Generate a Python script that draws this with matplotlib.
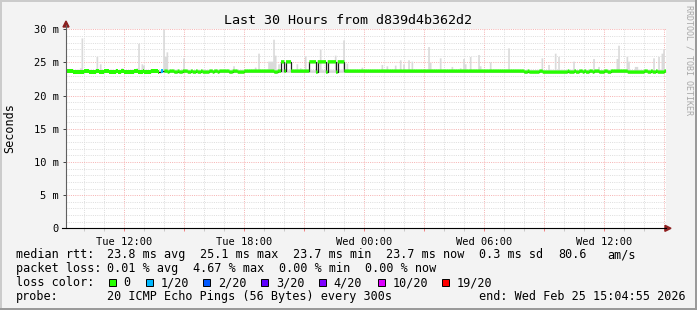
import datetime as dt
import numpy as np
import pandas as pd
import matplotlib
matplotlib.use('Agg')
import matplotlib.pyplot as plt
import matplotlib.dates as mdates
from matplotlib.lines import Line2D
from matplotlib.patches import Polygon, Rectangle
from matplotlib.ticker import MultipleLocator, FuncFormatter

plt.rcParams['font.family'] = 'DejaVu Sans Mono'

# 5 minute samples, 30 hours (values in ms)
n_steps = 360
start = dt.datetime(2026, 2, 24, 9, 4, 55)
end = dt.datetime(2026, 2, 25, 15, 4, 55)

median_base = 23.7
dip_level = 23.55
high_level = 25.1
# (first, last) sample index where the median sits lower / higher
dip_ranges = [(4, 10), (14, 17), (20, 22), (26, 29), (31, 32), (35, 37), (38, 40),
              (43, 45), (47, 50), (55, 56), (61, 61), (65, 66), (68, 69), (73, 74),
              (76, 77), (79, 80), (82, 85), (88, 88), (91, 91), (98, 99), (103, 106),
              (125, 126), (150, 150), (156, 156), (162, 162),
              (275, 276), (278, 280), (281, 283), (286, 289), (290, 292), (293, 295),
              (296, 298), (299, 300), (302, 304), (306, 307), (310, 310), (312, 313),
              (316, 316), (320, 322), (325, 326), (337, 340), (341, 343), (344, 346),
              (349, 350), (352, 353), (355, 358)]
high_ranges = [(129, 130), (132, 134), (146, 149), (151, 155), (157, 161), (163, 166)]
loss_1of20 = [57, 58]

# smoke: max ping per sample (only the ones standing out)
smoke_floor = 23.9
spike_idx = [8, 9, 18, 20, 33, 42, 43, 45, 46, 58, 59, 60, 70, 100, 113, 115, 121, 122,
             123, 124, 125, 127, 138, 140, 143, 152, 161, 166, 168, 177, 189, 192, 197,
             200, 202, 205, 207, 217, 218, 224, 231, 236, 238, 239, 242, 247, 248, 254,
             265, 285, 289, 293, 295, 304, 316, 319, 330, 331, 336, 337, 341, 342, 352,
             355, 357, 358]
spike_top = [24.2, 28.7, 25.9, 24.8, 24.2, 24.2, 27.9, 24.8, 24.6, 30.0, 25.9, 26.6,
             25.7, 24.5, 24.3, 26.4, 25.2, 25.2, 25.2, 28.5, 26.1, 24.8, 24.8, 24.2,
             26.0, 27.0, 26.1, 28.4, 24.9, 24.3, 24.7, 24.5, 24.6, 25.4, 24.8, 25.4,
             25.2, 27.4, 25.0, 25.7, 24.4, 24.2, 25.6, 24.8, 25.9, 26.2, 24.5, 25.1,
             27.2, 25.7, 24.7, 26.4, 25.9, 25.2, 25.6, 24.4, 25.6, 27.6, 25.9, 25.2,
             24.4, 24.4, 25.7, 25.9, 26.4, 27.0]

W, H = 697, 310


def fx(x):
    return x / W


def fy(y):
    return 1 - y / H


median = np.full(n_steps, median_base)
for a, b in dip_ranges:
    median[a:b + 1] = dip_level
for a, b in high_ranges:
    median[a:b + 1] = high_level
smoke = np.full(n_steps, smoke_floor)
smoke[spike_idx] = spike_top

edges = pd.date_range('2026-02-24 09:05', periods=n_steps + 1, freq='5min')
xe = mdates.date2num(edges.to_pydatetime())
med_e = np.append(median, median[-1])
smk_e = np.append(smoke, smoke[-1])

fig = plt.figure(figsize=(W / 100, H / 100), dpi=100, facecolor='#f3f3f3')
ax = fig.add_axes([fx(66), fy(228.3), 600 / W, 199 / H])
ax.set_facecolor('white')

# smoke
ax.fill_between(xe, 23.5, smk_e, step='post', color='#dadada', lw=0, zorder=2)
# median line + loss coloured band
ax.step(xe, med_e, where='post', color='#202020', lw=0.9, zorder=3)
hw = 0.25
loss_col = np.array(['#26ff00'] * n_steps, dtype=object)
loss_col[loss_1of20] = '#00b8ff'
for col in ['#26ff00', '#00b8ff']:
    mm = np.append(loss_col == col, loss_col[-1] == col)
    ax.fill_between(xe, med_e - hw, med_e + hw, where=mm, step='post',
                    color=col, lw=0, zorder=4)

ax.set_xlim(mdates.date2num(start), mdates.date2num(end))
ax.set_ylim(0, 30)
for s in ax.spines.values():
    s.set_visible(False)

ax.xaxis.set_major_locator(mdates.HourLocator(byhour=range(0, 24, 3)))
ax.xaxis.set_minor_locator(mdates.HourLocator())


def xlab(v, pos):
    d = mdates.num2date(v)
    return d.strftime('%a %H:%M') if d.hour % 6 == 0 else ''


ax.xaxis.set_major_formatter(FuncFormatter(xlab))
ax.yaxis.set_major_locator(MultipleLocator(5))
ax.yaxis.set_minor_locator(MultipleLocator(1))
ax.yaxis.set_major_formatter(FuncFormatter(lambda v, p: '0' if v == 0 else f'{v:.0f} m'))

dots = (0, (1, 1.2))
ax.grid(which='minor', color='#dedede', lw=0.72, linestyle=dots, zorder=1)
ax.grid(which='major', color='#f6b4b4', lw=0.72, linestyle=dots, zorder=1)
ax.set_axisbelow(True)
ax.tick_params(axis='x', which='major', length=2, width=0.7, color='#f08080',
               labelsize=7.5, pad=4)
ax.tick_params(axis='x', which='minor', length=2, width=0.7, color='#c8c8c8')
ax.tick_params(axis='y', which='major', length=2, width=0.7, color='#404040',
               labelsize=7.5, pad=3)
ax.tick_params(axis='y', which='minor', length=0)

# axes lines and arrows
fig.add_artist(Line2D([fx(66), fx(66)], [fy(228.3), fy(25)], color='#606060', lw=0.8))
fig.add_artist(Line2D([fx(62), fx(666)], [fy(228.3), fy(228.3)], color='black', lw=0.8))
arrow_c = '#8b2020'
fig.add_artist(Polygon([[fx(63), fy(27)], [fx(69), fy(27)], [fx(66), fy(21)]],
                       closed=True, color=arrow_c))
fig.add_artist(Polygon([[fx(665), fy(225.3)], [fx(665), fy(231.3)], [fx(671), fy(228.3)]],
                       closed=True, color=arrow_c))

# frame
fig.add_artist(Rectangle((0, fy(2)), 1, 2 / H, color='#cbcbcb', lw=0))
fig.add_artist(Rectangle((0, 0), 2 / W, 1, color='#cbcbcb', lw=0))
fig.add_artist(Rectangle((fx(695), 0), 2 / W, 1, color='#9a9a9a', lw=0))
fig.add_artist(Rectangle((0, 0), 1, 2 / H, color='#9a9a9a', lw=0))

fig.text(fx(348), fy(24), 'Last 30 Hours from d839d4b362d2', fontsize=9.6,
         ha='center', va='baseline')
fig.text(fx(10), fy(128), 'Seconds', fontsize=8.5, rotation=90, ha='center', va='center')
fig.text(fx(688.5), fy(5), 'RRDTOOL / TOBI OETIKER', fontsize=6, rotation=270,
         ha='center', va='top', color='#a8a8a8')

fs = 8.5
rows = [
    (258.3, [(16, 'median rtt:'), (107, '23.8 ms avg'), (200.3, '25.1 ms max'),
             (293.3, '23.7 ms min'), (386, '23.7 ms now'), (479.3, '0.3 ms sd'),
             (558.3, '80.6'), (607.3, 'am/s')]),
    (272.3, [(16, 'packet loss:'), (107, '0.01 % avg'), (193.3, '4.67 % max'),
             (279, '0.00 % min'), (365, '0.00 % now')]),
    (300.3, [(16, 'probe:'), (107, '20 ICMP Echo Pings (56 Bytes) every 300s'),
             (479.3, 'end: Wed Feb 25 15:04:55 2026')]),
]
for yb, items in rows:
    for x, t in items:
        fig.text(fx(x), fy(yb), t, fontsize=fs, ha='left', va='baseline')

fig.text(fx(16), fy(286.3), 'loss color:', fontsize=fs, ha='left', va='baseline')
loss_labels = ['0', '1/20', '2/20', '3/20', '4/20', '10/20', '19/20']
loss_colors = ['#26ff00', '#00b8ff', '#0059ff', '#5e00ff', '#7e00ff', '#dd00ff', '#ff0000']
box_x = [109, 146, 203.3, 261.3, 319.3, 377.7, 442.3]
for bx, lab, c in zip(box_x, loss_labels, loss_colors):
    fig.add_artist(Rectangle((fx(bx), fy(286)), 7 / W, 7.5 / H, facecolor=c,
                             edgecolor='black', lw=0.7))
    fig.text(fx(bx + 14.5), fy(286.3), lab, fontsize=fs, ha='left', va='baseline')

fig.savefig('out.png', dpi=100, facecolor=fig.get_facecolor())
